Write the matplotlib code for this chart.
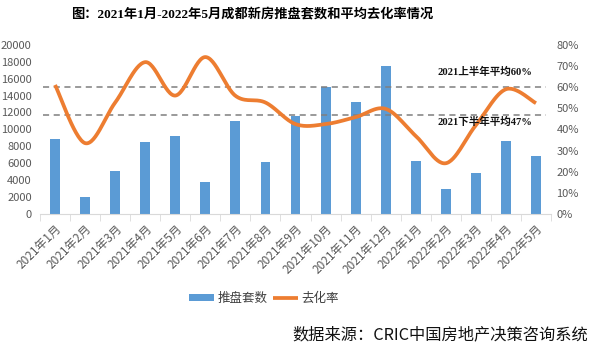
import numpy as np
import matplotlib
matplotlib.use("Agg")
import matplotlib.pyplot as plt
from matplotlib.ticker import FuncFormatter, FixedLocator

plt.rcParams['font.family'] = ['Noto Sans CJK SC', 'DejaVu Sans']

months = ['2021年1月', '2021年2月', '2021年3月', '2021年4月', '2021年5月', '2021年6月',
          '2021年7月', '2021年8月', '2021年9月', '2021年10月', '2021年11月', '2021年12月',
          '2022年1月', '2022年2月', '2022年3月', '2022年4月', '2022年5月']
supply = [8900, 2050, 5080, 8500, 9200, 3780, 11000, 6150, 11580, 15000, 13230, 17480,
          6260, 2950, 4840, 8620, 6850]
sell_rate = [61, 33.5, 52.7, 71.8, 56, 74.2, 55.9, 52.7, 42.5, 42.5, 45.8, 49.7,
             36.9, 24, 42, 59, 52.4]
avg_h1 = 60
avg_h2 = 47

BLUE = '#5B9BD5'
ORANGE = '#ED7D31'
GRAY = '#595959'


def smooth(xs, ys, n=30):
    # cardinal bezier between neighbouring points, like office "smoothed line"
    xs = np.asarray(xs, float)
    ys = np.asarray(ys, float)
    px = np.concatenate([[xs[0]], xs, [xs[-1]]])
    py = np.concatenate([[ys[0]], ys, [ys[-1]]])
    outx, outy = [], []
    t = np.linspace(0, 1, n)
    for i in range(1, len(px) - 2):
        p0, p1, p2, p3 = (np.array([px[j], py[j]]) for j in (i - 1, i, i + 1, i + 2))
        c1 = p1 + (p2 - p0) / 6
        c2 = p2 - (p3 - p1) / 6
        b = ((1 - t) ** 3)[:, None] * p1 + (3 * (1 - t) ** 2 * t)[:, None] * c1 \
            + (3 * (1 - t) * t ** 2)[:, None] * c2 + (t ** 3)[:, None] * p2
        outx.extend(b[:, 0])
        outy.extend(b[:, 1])
    return np.array(outx), np.array(outy)


fig = plt.figure(figsize=(5.93, 3.5), dpi=100)
ax = fig.add_axes([0.0675, 0.3886, 0.8617, 0.4834])
ax2 = ax.twinx()

x = np.arange(len(months))
ax.bar(x, supply, width=0.33, color=BLUE, label='推盘套数', zorder=2)
ax.set_ylim(0, 20000)
ax.set_xlim(-0.5, len(months) - 0.5)
ax.set_yticks(np.arange(0, 20001, 2000))

sx, sy = smooth(x, sell_rate)
ax2.plot(sx, sy, color=ORANGE, lw=2.7, label='去化率', zorder=3, solid_capstyle='butt')
ax2.set_ylim(0, 80)
ax2.set_yticks(np.arange(0, 81, 10))
ax2.yaxis.set_major_formatter(FuncFormatter(lambda v, p: f'{v:.0f}%'))

for lvl in (avg_h1, avg_h2):
    ax2.axhline(lvl, xmin=0.005, xmax=0.99, color='#7F7F7F', lw=1.1, ls=(0, (4, 3)), zorder=1)
note_font = ['Liberation Serif', 'Noto Sans CJK SC']
ax2.text(12.73, 67.2, '2021上半年平均60%', fontsize=7.6, fontweight='bold', va='center',
         color='#111111', family=note_font)
ax2.text(12.73, 43.5, '2021下半年平均47%', fontsize=7.6, fontweight='bold', va='center',
         color='#111111', family=note_font)

for a in (ax, ax2):
    for s in ('top', 'left', 'right'):
        a.spines[s].set_visible(False)
    a.tick_params(axis='y', length=0, labelsize=8, labelcolor=GRAY)
ax2.spines['bottom'].set_visible(False)
ax.spines['bottom'].set_color('#D9D9D9')
ax.tick_params(axis='y', pad=6)
ax2.tick_params(axis='y', pad=4)

ax.set_xticks(x)
ax.set_xticklabels(months, rotation=45, ha='right', rotation_mode='anchor',
                   fontsize=8.5, color=GRAY)
ax.tick_params(axis='x', which='major', length=0, pad=6)
ax.xaxis.set_minor_locator(FixedLocator(np.arange(-0.5, len(months), 1)))
ax.tick_params(axis='x', which='minor', length=5, color='#D9D9D9')

h1, l1 = ax.get_legend_handles_labels()
h2, l2 = ax2.get_legend_handles_labels()
fig.legend(h1 + h2, l1 + l2, loc='center', bbox_to_anchor=(0.445, 0.148), ncol=2,
           frameon=False, fontsize=9, handlelength=2.0, handleheight=0.55,
           columnspacing=0.4, handletextpad=0.3, labelcolor='#404040')

fig.text(0.425, 0.958, '图：2021年1月-2022年5月成都新房推盘套数和平均去化率情况',
         ha='center', va='center', fontsize=9.5, fontweight='bold',
         family=['Liberation Serif', 'Noto Sans CJK SC'])
fig.text(0.992, 0.043, '数据来源：CRIC中国房地产决策咨询系统', ha='right', va='center',
         fontsize=11.7, color='#111111')

fig.savefig('out.png', dpi=100)
